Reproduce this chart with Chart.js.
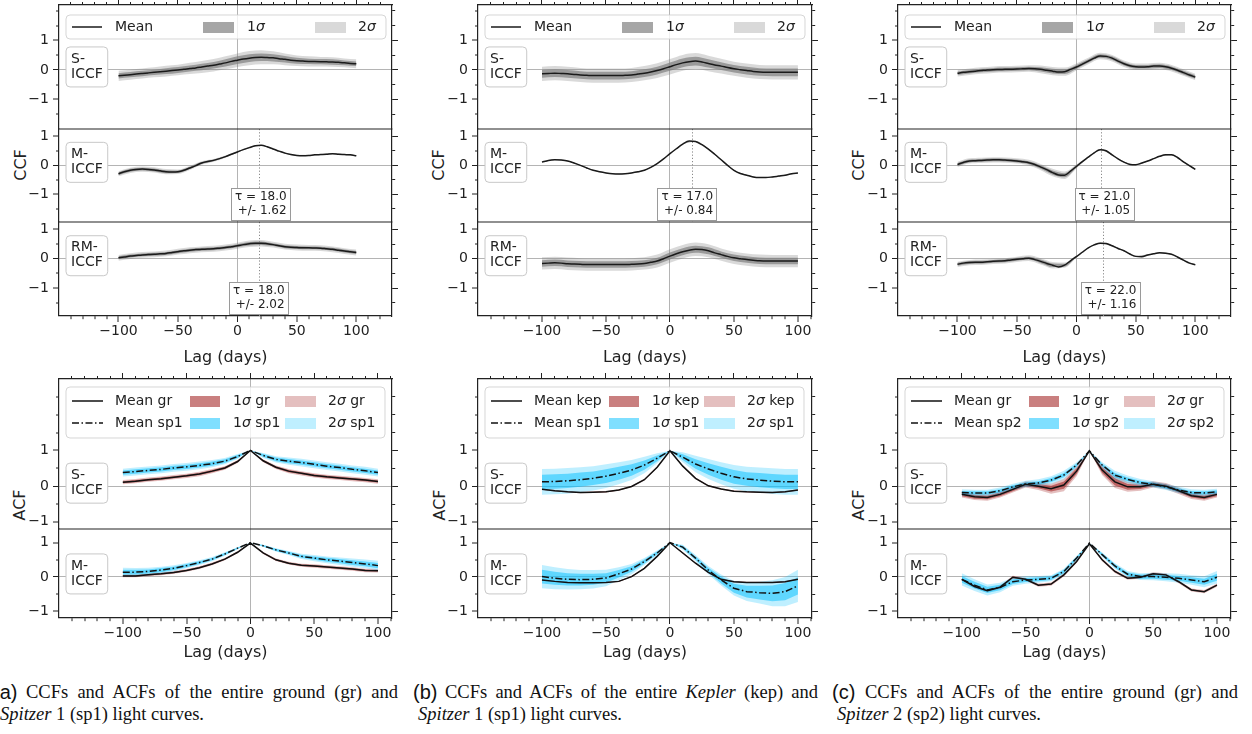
<!DOCTYPE html>
<html>
<head>
<meta charset="utf-8">
<script src="https://cdn.jsdelivr.net/npm/chart.js@4.4.1/dist/chart.umd.min.js"></script>
<style>
body { margin: 0; background: #fff; overflow: hidden; }
#fig { position: relative; width: 1252px; height: 734px; overflow: hidden; background: #fff; }
#fig canvas { position: absolute; }
.ylab { position: absolute; font: 16px "DejaVu Sans"; color: #222; transform: translate(-50%, -50%) rotate(-90deg); white-space: nowrap; }
.cap { position: absolute; font: 18.5px "Liberation Serif"; color: #111; white-space: nowrap; line-height: 22px; height: 22px; }
.cap.j { text-align: justify; text-align-last: justify; }
.tag { font: 20px "Liberation Sans"; }
</style>
</head>
<body>
<div id="fig">
  <div class="ylab" style="left:20px;top:165px">CCF</div>
  <div class="ylab" style="left:438px;top:165px">CCF</div>
  <div class="ylab" style="left:858px;top:165px">CCF</div>
  <div class="ylab" style="left:19px;top:505px">ACF</div>
  <div class="ylab" style="left:439px;top:505px">ACF</div>
  <div class="ylab" style="left:858px;top:505px">ACF</div>

  <div class="cap tag" style="left:-7px;top:681px">(a)</div>
  <div class="cap j" style="left:26px;top:681px;width:372px">CCFs and ACFs of the entire ground (gr) and</div>
  <div class="cap" style="left:0px;top:703px"><i>Spitzer</i> 1 (sp1) light curves.</div>

  <div class="cap tag" style="left:413px;top:681px">(b)</div>
  <div class="cap j" style="left:445px;top:681px;width:373px">CCFs and ACFs of the entire <i>Kepler</i> (kep) and</div>
  <div class="cap" style="left:418px;top:703px"><i>Spitzer</i> 1 (sp1) light curves.</div>

  <div class="cap tag" style="left:832px;top:681px">(c)</div>
  <div class="cap j" style="left:865px;top:681px;width:373px">CCFs and ACFs of the entire ground (gr) and</div>
  <div class="cap" style="left:837px;top:703px"><i>Spitzer</i> 2 (sp2) light curves.</div>
</div>
<script>
// lag grids
const LAG5 = [-100,-95,-90,-85,-80,-75,-70,-65,-60,-55,-50,-45,-40,-35,-30,-25,-20,-15,-10,-5,0,5,10,15,20,25,30,35,40,45,50,55,60,65,70,75,80,85,90,95,100];
const LAG10 = [-100,-90,-80,-70,-60,-50,-40,-30,-20,-10,0,10,20,30,40,50,60,70,80,90,100];

// CCF means (on LAG5)
const ccfA_S = [-0.20,-0.18,-0.16,-0.14,-0.12,-0.10,-0.08,-0.06,-0.04,-0.02,0.00,0.02,0.05,0.07,0.10,0.13,0.16,0.20,0.24,0.29,0.33,0.37,0.40,0.42,0.43,0.42,0.41,0.38,0.36,0.33,0.31,0.30,0.29,0.285,0.28,0.275,0.27,0.26,0.24,0.22,0.21];
const ccfA_M = [-0.29,-0.22,-0.17,-0.14,-0.13,-0.14,-0.16,-0.19,-0.22,-0.23,-0.22,-0.17,-0.09,-0.01,0.08,0.13,0.17,0.23,0.30,0.38,0.46,0.54,0.61,0.67,0.69,0.64,0.56,0.49,0.42,0.37,0.34,0.33,0.34,0.36,0.37,0.38,0.40,0.38,0.37,0.36,0.33];
const ccfA_RM = [0.03,0.06,0.09,0.11,0.13,0.14,0.15,0.165,0.18,0.21,0.24,0.27,0.29,0.31,0.32,0.33,0.34,0.36,0.38,0.41,0.44,0.48,0.51,0.53,0.53,0.51,0.48,0.44,0.41,0.39,0.38,0.37,0.37,0.365,0.36,0.34,0.32,0.29,0.26,0.235,0.21];
const ccfB_S = [-0.13,-0.12,-0.11,-0.12,-0.13,-0.15,-0.17,-0.18,-0.19,-0.19,-0.19,-0.19,-0.19,-0.18,-0.17,-0.14,-0.11,-0.07,-0.02,0.04,0.11,0.18,0.24,0.28,0.30,0.27,0.22,0.17,0.13,0.08,0.04,0.01,-0.02,-0.05,-0.07,-0.08,-0.08,-0.08,-0.08,-0.08,-0.08];
const ccfB_M = [0.11,0.17,0.19,0.18,0.15,0.08,0.00,-0.09,-0.17,-0.22,-0.26,-0.29,-0.30,-0.29,-0.26,-0.22,-0.17,-0.07,0.06,0.22,0.40,0.57,0.73,0.84,0.82,0.71,0.56,0.38,0.19,0.00,-0.17,-0.28,-0.34,-0.40,-0.42,-0.42,-0.40,-0.37,-0.34,-0.29,-0.26];
const ccfB_RM = [-0.16,-0.15,-0.14,-0.15,-0.17,-0.18,-0.19,-0.20,-0.20,-0.20,-0.20,-0.20,-0.20,-0.20,-0.19,-0.18,-0.16,-0.12,-0.08,0.00,0.09,0.17,0.24,0.29,0.32,0.31,0.27,0.20,0.14,0.08,0.03,0.00,-0.03,-0.05,-0.07,-0.08,-0.08,-0.08,-0.08,-0.08,-0.08];
const ccfC_S = [-0.11,-0.08,-0.06,-0.04,-0.02,0.00,0.01,0.015,0.02,0.025,0.03,0.04,0.05,0.04,0.02,-0.01,-0.04,-0.07,-0.06,0.02,0.10,0.20,0.30,0.40,0.47,0.46,0.40,0.30,0.21,0.14,0.11,0.10,0.11,0.13,0.13,0.11,0.06,-0.01,-0.09,-0.17,-0.24];
const ccfC_M = [0.03,0.10,0.15,0.16,0.17,0.18,0.19,0.19,0.18,0.17,0.15,0.12,0.09,0.03,-0.06,-0.15,-0.25,-0.33,-0.34,-0.20,-0.04,0.13,0.28,0.43,0.54,0.50,0.36,0.22,0.11,0.03,0.02,0.08,0.15,0.23,0.31,0.36,0.36,0.27,0.12,-0.01,-0.14];
const ccfC_RM = [-0.19,-0.15,-0.13,-0.12,-0.12,-0.10,-0.09,-0.08,-0.07,-0.04,-0.02,0.00,0.02,-0.03,-0.09,-0.16,-0.22,-0.28,-0.22,-0.07,0.07,0.22,0.37,0.47,0.53,0.52,0.44,0.35,0.27,0.16,0.08,0.07,0.13,0.17,0.20,0.19,0.15,0.06,-0.05,-0.15,-0.21];

// CCF band half-widths (on LAG10): 1 sigma and 2 sigma
const sA_S1 = [0.09,0.09,0.09,0.09,0.10,0.10,0.10,0.11,0.11,0.12,0.13,0.13,0.13,0.12,0.11,0.10,0.09,0.09,0.09,0.08,0.08];
const sA_S2 = [0.17,0.17,0.17,0.17,0.18,0.18,0.19,0.20,0.21,0.22,0.23,0.24,0.24,0.22,0.20,0.18,0.17,0.16,0.16,0.15,0.15];
const sA_M1 = [0.05,0.05,0.05,0.05,0.05,0.045,0.04,0.035,0.03,0.025,0.02,0.015,0.01,0.01,0.01,0.01,0.01,0.01,0.01,0.01,0.01];
const sA_M2 = [0.09,0.09,0.09,0.09,0.09,0.08,0.07,0.06,0.05,0.04,0.03,0.025,0.02,0.02,0.02,0.02,0.02,0.02,0.02,0.02,0.02];
const sA_R1 = [0.05,0.05,0.05,0.05,0.05,0.05,0.05,0.05,0.05,0.05,0.05,0.06,0.06,0.05,0.05,0.05,0.05,0.05,0.05,0.05,0.05];
const sA_R2 = [0.10,0.10,0.10,0.10,0.10,0.10,0.10,0.10,0.10,0.10,0.10,0.11,0.11,0.10,0.10,0.10,0.10,0.10,0.10,0.10,0.10];
const sB_S1 = [0.13,0.13,0.13,0.13,0.13,0.13,0.13,0.13,0.13,0.13,0.14,0.15,0.15,0.14,0.13,0.13,0.13,0.13,0.13,0.13,0.13];
const sB_S2 = [0.24,0.24,0.24,0.24,0.24,0.24,0.24,0.24,0.24,0.25,0.26,0.27,0.27,0.26,0.25,0.24,0.24,0.24,0.24,0.24,0.24];
const sB_M1 = [0.008,0.008,0.008,0.008,0.008,0.008,0.008,0.008,0.008,0.008,0.008,0.008,0.008,0.008,0.008,0.008,0.008,0.008,0.008,0.008,0.008];
const sB_M2 = [0.015,0.015,0.015,0.015,0.015,0.015,0.015,0.015,0.015,0.015,0.015,0.015,0.015,0.015,0.015,0.015,0.015,0.015,0.015,0.015,0.015];
const sB_R1 = [0.11,0.11,0.11,0.11,0.11,0.11,0.11,0.11,0.11,0.11,0.12,0.12,0.12,0.12,0.11,0.11,0.11,0.11,0.11,0.11,0.11];
const sB_R2 = [0.21,0.21,0.21,0.21,0.21,0.21,0.21,0.21,0.21,0.22,0.23,0.23,0.23,0.22,0.21,0.21,0.21,0.21,0.21,0.21,0.21];
const sC_S1 = [0.06,0.06,0.06,0.06,0.06,0.06,0.06,0.07,0.08,0.08,0.07,0.06,0.06,0.06,0.06,0.06,0.06,0.06,0.06,0.06,0.06];
const sC_S2 = [0.11,0.11,0.11,0.11,0.11,0.11,0.11,0.13,0.14,0.14,0.12,0.11,0.11,0.11,0.11,0.11,0.11,0.11,0.11,0.11,0.11];
const sC_M1 = [0.05,0.05,0.05,0.05,0.05,0.05,0.05,0.06,0.07,0.07,0.04,0.01,0.01,0.01,0.01,0.01,0.01,0.01,0.01,0.01,0.01];
const sC_M2 = [0.09,0.09,0.09,0.09,0.09,0.09,0.10,0.11,0.13,0.13,0.07,0.02,0.02,0.02,0.02,0.02,0.02,0.02,0.02,0.02,0.02];
const sC_R1 = [0.05,0.05,0.05,0.05,0.05,0.05,0.05,0.06,0.06,0.05,0.02,0.01,0.01,0.01,0.01,0.01,0.01,0.01,0.01,0.01,0.01];
const sC_R2 = [0.09,0.09,0.09,0.09,0.09,0.09,0.10,0.11,0.11,0.09,0.04,0.02,0.02,0.02,0.02,0.02,0.02,0.02,0.02,0.02,0.02];

// lag annotations: [tau, error]
const tauA_M = [18.0, '1.62'], tauA_RM = [18.0, '2.02'];
const tauB_M = [17.0, '0.84'];
const tauC_M = [21.0, '1.05'], tauC_RM = [22.0, '1.16'];

// ACF means (on LAG10)
const acfA_S_gr = [0.11,0.14,0.18,0.21,0.25,0.29,0.34,0.42,0.51,0.69,1.00,0.71,0.53,0.42,0.36,0.30,0.26,0.23,0.20,0.17,0.13];
const acfA_S_sp = [0.38,0.41,0.44,0.47,0.51,0.54,0.58,0.63,0.70,0.83,1.00,0.86,0.75,0.70,0.66,0.61,0.56,0.52,0.47,0.43,0.38];
const acfA_M_gr = [0.03,0.03,0.06,0.09,0.13,0.19,0.27,0.38,0.52,0.72,0.99,0.70,0.50,0.40,0.34,0.32,0.29,0.26,0.23,0.19,0.18];
const acfA_M_sp = [0.14,0.14,0.16,0.20,0.25,0.33,0.42,0.52,0.67,0.84,1.00,0.91,0.79,0.70,0.60,0.55,0.50,0.46,0.42,0.38,0.33];
const acfB_S_kep = [-0.09,-0.13,-0.16,-0.18,-0.17,-0.16,-0.11,-0.01,0.18,0.53,0.99,0.56,0.22,0.01,-0.08,-0.14,-0.16,-0.17,-0.18,-0.16,-0.11];
const acfB_S_sp = [0.12,0.13,0.15,0.18,0.22,0.28,0.36,0.45,0.59,0.78,0.99,0.81,0.62,0.48,0.36,0.26,0.20,0.17,0.14,0.12,0.12];
const acfB_M_kep = [-0.09,-0.13,-0.16,-0.17,-0.17,-0.16,-0.13,0.01,0.25,0.60,1.00,0.70,0.40,0.13,-0.07,-0.14,-0.16,-0.16,-0.16,-0.14,-0.07];
const acfB_M_sp = [0.01,-0.04,-0.07,-0.08,-0.07,-0.03,0.09,0.23,0.45,0.70,1.00,0.87,0.55,0.20,-0.09,-0.33,-0.43,-0.46,-0.48,-0.43,-0.26];
const acfC_S_gr = [-0.23,-0.30,-0.32,-0.23,-0.09,0.05,0.00,-0.07,0.03,0.42,0.99,0.45,0.12,-0.02,-0.02,0.05,0.00,-0.13,-0.27,-0.32,-0.23];
const acfC_S_sp = [-0.18,-0.19,-0.19,-0.13,-0.02,0.06,0.09,0.17,0.31,0.59,0.99,0.59,0.31,0.19,0.10,0.05,-0.02,-0.11,-0.18,-0.19,-0.16];
const acfC_M_gr = [-0.07,-0.28,-0.40,-0.30,-0.01,-0.07,-0.24,-0.21,0.06,0.45,0.97,0.50,0.16,-0.04,-0.01,0.09,0.06,-0.14,-0.38,-0.43,-0.24];
const acfC_M_sp = [-0.07,-0.24,-0.38,-0.31,-0.14,-0.09,-0.07,-0.04,0.16,0.55,0.99,0.65,0.32,0.08,0.01,0.01,-0.01,-0.04,-0.09,-0.14,-0.01];

// ACF band half-widths (on LAG10)
const gA_S1 = [0.03,0.03,0.03,0.03,0.03,0.03,0.03,0.03,0.03,0.02,0.00,0.02,0.03,0.03,0.03,0.03,0.03,0.03,0.03,0.03,0.03];
const gA_S2 = [0.06,0.06,0.06,0.06,0.06,0.06,0.06,0.06,0.05,0.04,0.00,0.04,0.05,0.06,0.06,0.06,0.06,0.06,0.06,0.06,0.06];
const pA_S1 = [0.06,0.06,0.06,0.06,0.06,0.06,0.06,0.06,0.05,0.04,0.00,0.04,0.05,0.06,0.06,0.06,0.06,0.06,0.06,0.06,0.06];
const pA_S2 = [0.11,0.11,0.11,0.11,0.11,0.11,0.11,0.10,0.09,0.07,0.00,0.07,0.09,0.10,0.11,0.11,0.11,0.11,0.11,0.11,0.11];
const gA_M1 = [0.02,0.02,0.02,0.02,0.02,0.02,0.02,0.02,0.02,0.015,0.00,0.015,0.02,0.02,0.02,0.025,0.025,0.025,0.025,0.025,0.025];
const gA_M2 = [0.04,0.04,0.04,0.04,0.04,0.04,0.04,0.04,0.035,0.03,0.00,0.03,0.035,0.04,0.045,0.05,0.05,0.05,0.05,0.05,0.05];
const pA_M1 = [0.07,0.07,0.06,0.06,0.05,0.05,0.04,0.035,0.03,0.02,0.00,0.02,0.03,0.035,0.04,0.05,0.06,0.06,0.07,0.07,0.08];
const pA_M2 = [0.13,0.12,0.11,0.10,0.09,0.08,0.07,0.06,0.05,0.03,0.00,0.03,0.05,0.06,0.08,0.09,0.10,0.11,0.12,0.13,0.14];
const gB_S1 = [0.01,0.01,0.01,0.01,0.01,0.01,0.01,0.01,0.01,0.01,0.00,0.01,0.01,0.01,0.01,0.01,0.01,0.01,0.01,0.01,0.01];
const gB_S2 = [0.02,0.02,0.02,0.02,0.02,0.02,0.02,0.02,0.02,0.02,0.00,0.02,0.02,0.02,0.02,0.02,0.02,0.02,0.02,0.02,0.02];
const pB_S1 = [0.20,0.20,0.20,0.20,0.19,0.19,0.18,0.16,0.13,0.08,0.00,0.08,0.13,0.16,0.18,0.19,0.19,0.20,0.20,0.20,0.20];
const pB_S2 = [0.36,0.36,0.36,0.35,0.34,0.33,0.31,0.28,0.23,0.14,0.00,0.14,0.23,0.28,0.31,0.33,0.34,0.35,0.36,0.36,0.36];
const gB_M1 = [0.01,0.01,0.01,0.01,0.01,0.01,0.01,0.01,0.01,0.01,0.00,0.01,0.01,0.01,0.01,0.01,0.01,0.01,0.01,0.01,0.01];
const gB_M2 = [0.02,0.02,0.02,0.02,0.02,0.02,0.02,0.02,0.02,0.02,0.00,0.02,0.02,0.02,0.02,0.02,0.02,0.02,0.02,0.02,0.02];
const pB_M1 = [0.20,0.19,0.18,0.17,0.16,0.14,0.11,0.08,0.06,0.04,0.00,0.04,0.05,0.07,0.10,0.13,0.17,0.20,0.23,0.25,0.25];
const pB_M2 = [0.34,0.32,0.30,0.28,0.27,0.24,0.19,0.15,0.10,0.07,0.00,0.07,0.09,0.12,0.16,0.21,0.27,0.32,0.38,0.43,0.47];
const gC_S1 = [0.05,0.05,0.05,0.05,0.05,0.05,0.06,0.08,0.10,0.08,0.00,0.08,0.10,0.08,0.06,0.05,0.05,0.05,0.05,0.05,0.05];
const gC_S2 = [0.09,0.09,0.09,0.09,0.09,0.09,0.11,0.14,0.17,0.14,0.00,0.14,0.17,0.14,0.11,0.09,0.09,0.09,0.09,0.09,0.09];
const pC_S1 = [0.045,0.045,0.045,0.045,0.045,0.045,0.05,0.055,0.06,0.04,0.00,0.04,0.06,0.055,0.05,0.045,0.045,0.045,0.045,0.045,0.045];
const pC_S2 = [0.09,0.09,0.09,0.09,0.09,0.09,0.10,0.11,0.12,0.08,0.00,0.08,0.12,0.11,0.10,0.09,0.09,0.09,0.09,0.09,0.09];
const gC_M1 = [0.02,0.02,0.02,0.02,0.02,0.02,0.02,0.02,0.02,0.02,0.00,0.02,0.02,0.02,0.02,0.02,0.02,0.02,0.02,0.02,0.02];
const gC_M2 = [0.045,0.045,0.045,0.045,0.045,0.045,0.045,0.045,0.045,0.04,0.00,0.04,0.045,0.045,0.045,0.045,0.045,0.045,0.045,0.045,0.045];
const pC_M1 = [0.10,0.10,0.09,0.08,0.07,0.06,0.06,0.05,0.05,0.04,0.00,0.04,0.05,0.05,0.06,0.06,0.07,0.07,0.08,0.09,0.10];
const pC_M2 = [0.18,0.17,0.16,0.14,0.12,0.11,0.10,0.09,0.08,0.06,0.00,0.06,0.08,0.09,0.10,0.11,0.12,0.13,0.14,0.16,0.18];

const INK = '#222';
const GRAY = '128,128,128', RED = '165,42,42', BLUE = '0,191,255';
Chart.defaults.font.family = 'DejaVu Sans';
Chart.defaults.font.size = 14;
Chart.defaults.color = INK;

const fig = document.getElementById('fig');
const DECOR = {};

const pts = (lags, vals) => vals.map((v, k) => ({x: lags[k], y: v}));
const every2 = arr => arr.filter((_, k) => k % 2 === 0);
const isInt = v => Math.abs(v - Math.round(v)) < 1e-6;
const fmt = v => { const r = Math.round(v); return r < 0 ? '\u2212' + (-r) : String(r); };

function tickVals(lo, hi, step) {
  const out = [];
  for (let v = Math.ceil((lo + 1e-6) / step) * step; v < hi - 1e-6; v += step) out.push(Math.round(v * 100) / 100);
  return out;
}

function band(yID, lags, mean, half, color, order, smooth) {
  const common = {yAxisID: yID, xAxisID: 'x', borderWidth: 0, borderColor: 'rgba(0,0,0,0)', pointRadius: 0, order: order};
  if (smooth) common.cubicInterpolationMode = 'monotone'; else common.tension = 0;
  return [
    Object.assign({}, common, {data: pts(lags, mean.map((v, k) => v + half[k])), fill: '+1', backgroundColor: color}),
    Object.assign({}, common, {data: pts(lags, mean.map((v, k) => v - half[k])), fill: false})
  ];
}

function rr(ctx, x, y, w, h, r) {
  ctx.beginPath();
  ctx.moveTo(x + r, y); ctx.lineTo(x + w - r, y); ctx.arcTo(x + w, y, x + w, y + r, r);
  ctx.lineTo(x + w, y + h - r); ctx.arcTo(x + w, y + h, x + w - r, y + h, r);
  ctx.lineTo(x + r, y + h); ctx.arcTo(x, y + h, x, y + h - r, r);
  ctx.lineTo(x, y + r); ctx.arcTo(x, y, x + r, y, r);
  ctx.closePath();
}

function rich(ctx, parts, x, y) {
  let cx = x;
  parts.forEach(p => {
    ctx.font = (p[1] ? 'italic ' : '') + '14px "DejaVu Sans"';
    ctx.fillText(p[0], cx, y);
    cx += ctx.measureText(p[0]).width;
  });
}

const decor = {
  id: 'decor',
  beforeDatasetsDraw(chart) {
    const d = DECOR[chart.canvas.id];
    const ctx = chart.ctx, xs = chart.scales.x;
    d.subs.forEach((s, i) => {
      if (!s.tau) return;
      const ys = chart.scales['y' + i];
      const px = Math.round(xs.getPixelForValue(s.tau[0])) + 0.5;
      ctx.save();
      ctx.strokeStyle = '#8a8a8a'; ctx.lineWidth = 1; ctx.setLineDash([1.2, 2]);
      ctx.beginPath(); ctx.moveTo(px, ys.top); ctx.lineTo(px, ys.bottom); ctx.stroke();
      ctx.restore();
    });
  },
  afterDatasetsDraw(chart) {
    const d = DECOR[chart.canvas.id];
    const ctx = chart.ctx, ca = chart.chartArea, xs = chart.scales.x;
    const L = ca.left, T = ca.top;
    ctx.save();
    // subplot dividers
    ctx.strokeStyle = INK; ctx.lineWidth = 1.2;
    for (let i = 0; i < d.subs.length - 1; i++) {
      const y = chart.scales['y' + i].bottom;
      ctx.beginPath(); ctx.moveTo(L, y); ctx.lineTo(ca.right, y); ctx.stroke();
    }
    // subplot name boxes
    ctx.textBaseline = 'middle'; ctx.textAlign = 'left';
    d.subs.forEach((s, i) => {
      const ys = chart.scales['y' + i];
      const y0 = ys.getPixelForValue(0);
      ctx.font = '14px "DejaVu Sans"';
      const w = Math.max(ctx.measureText(s.label[0]).width, ctx.measureText(s.label[1]).width) + 10;
      const top = y0 - 23;
      rr(ctx, L + 7, top, w, 40, 4);
      ctx.fillStyle = '#fff'; ctx.fill();
      ctx.strokeStyle = '#c8c8c8'; ctx.lineWidth = 1; ctx.stroke();
      ctx.fillStyle = INK;
      ctx.fillText(s.label[0], L + 12, top + 12);
      ctx.fillText(s.label[1], L + 12, top + 27);
      if (s.tau) {
        ctx.font = '12px "DejaVu Sans"';
        const l1 = '\u03c4 = ' + s.tau[0].toFixed(1), l2 = '+/- ' + s.tau[1];
        const tw = Math.max(ctx.measureText(l1).width, ctx.measureText(l2).width) + 7;
        const cx = xs.getPixelForValue(s.tau[0]) + s.tauDx;
        const bt = ys.bottom - 34;
        ctx.fillStyle = '#fff'; ctx.fillRect(cx - tw / 2, bt, tw, 32);
        ctx.strokeStyle = '#9a9a9a'; ctx.strokeRect(Math.round(cx - tw / 2) + 0.5, Math.round(bt) + 0.5, Math.round(tw), 32);
        ctx.fillStyle = INK; ctx.textAlign = 'right';
        ctx.fillText(l1, cx + tw / 2 - 3, bt + 9);
        ctx.fillText(l2, cx + tw / 2 - 3, bt + 23);
        ctx.textAlign = 'left';
      }
    });
    // legend
    if (d.kind === 'ccf') {
      rr(ctx, L + 7, T + 10, 320, 24, 4);
      ctx.fillStyle = 'rgba(255,255,255,0.8)'; ctx.fill();
      ctx.strokeStyle = 'rgba(204,204,204,0.8)'; ctx.lineWidth = 1; ctx.stroke();
      const y = T + 22;
      ctx.strokeStyle = '#1a1a1a'; ctx.lineWidth = 1.5;
      ctx.beginPath(); ctx.moveTo(L + 13, y); ctx.lineTo(L + 43, y); ctx.stroke();
      ctx.fillStyle = 'rgba(' + GRAY + ',0.7)'; ctx.fillRect(L + 144, y - 5, 31, 11);
      ctx.fillStyle = 'rgba(' + GRAY + ',0.3)'; ctx.fillRect(L + 256, y - 5, 31, 11);
      ctx.fillStyle = INK;
      rich(ctx, [['Mean', 0]], L + 56, y);
      rich(ctx, [['1', 0], ['\u03c3', 1]], L + 188, y);
      rich(ctx, [['2', 0], ['\u03c3', 1]], L + 299, y);
    } else {
      rr(ctx, L + 7, T + 8, 319, 51, 4);
      ctx.fillStyle = 'rgba(255,255,255,0.8)'; ctx.fill();
      ctx.strokeStyle = 'rgba(204,204,204,0.8)'; ctx.lineWidth = 1; ctx.stroke();
      const rows = [[d.names[0], RED, 0.6, 0.3, []], [d.names[1], BLUE, 0.5, 0.25, [7, 2.5, 1.5, 2.5]]];
      rows.forEach((r, k) => {
        const y = T + 22 + 22 * k;
        ctx.strokeStyle = '#111'; ctx.lineWidth = 1.5; ctx.setLineDash(r[4]);
        ctx.beginPath(); ctx.moveTo(L + 13, y); ctx.lineTo(L + 44, y); ctx.stroke();
        ctx.setLineDash([]);
        ctx.fillStyle = 'rgba(' + r[1] + ',' + r[2] + ')'; ctx.fillRect(L + 131, y - 5, 30, 11);
        ctx.fillStyle = 'rgba(' + r[1] + ',' + r[3] + ')'; ctx.fillRect(L + 226, y - 5, 31, 11);
        ctx.fillStyle = INK;
        rich(ctx, [['Mean ' + r[0], 0]], L + 56, y);
        rich(ctx, [['1', 0], ['\u03c3', 1], [' ' + r[0], 0]], L + 174, y);
        rich(ctx, [['2', 0], ['\u03c3', 1], [' ' + r[0], 0]], L + 269, y);
      });
    }
    ctx.restore();
  }
};

function makePanel(p) {
  const [bx, by, bw, bh] = p.box;
  const [fl, ft, fr, fb] = p.frame;
  const cv = document.createElement('canvas');
  cv.id = p.id; cv.width = bw; cv.height = bh;
  cv.style.left = bx + 'px'; cv.style.top = by + 'px';
  fig.appendChild(cv);
  const wL = fl - bx, wR = bx + bw - fr, hT = ft - by, hB = by + bh - fb;
  const fix = (size, horiz) => s => {
    if (horiz) s.height = size; else s.width = size;
    s.paddingLeft = s.paddingRight = s.paddingTop = s.paddingBottom = 0;
  };
  const setTicks = vals => s => { s.ticks = vals.map(v => ({value: v})); };
  const xv = tickVals(-150, p.xmax, 10);
  const majX = v => v % 50 === 0;
  const border = {color: INK, width: 1.2};
  const scales = {
    x: {
      type: 'linear', axis: 'x', position: 'bottom', min: -150, max: p.xmax,
      afterBuildTicks: setTicks(xv), afterFit: fix(hB, true),
      ticks: {autoSkip: false, maxRotation: 0, padding: 1, callback: v => (majX(v) && Math.abs(v) <= 100) ? fmt(v) : ''},
      grid: {
        drawOnChartArea: true, color: '#b4b4b4', tickColor: INK, tickWidth: 1, tickLength: 6,
        lineWidth: c => (c.tick && c.tick.value === 0) ? 1 : 0,
        tickBorderDash: c => (c.tick && !majX(c.tick.value)) ? [3, 20] : []
      },
      border: border,
      title: {display: true, text: 'Lag (days)', font: {size: 16}, padding: {top: 0, bottom: p.titlePad}}
    },
    xt: {
      type: 'linear', axis: 'x', position: 'top', min: -150, max: p.xmax,
      afterBuildTicks: setTicks(xv), afterFit: fix(hT, true),
      ticks: {display: false, autoSkip: false},
      grid: {
        drawOnChartArea: false, tickColor: INK, tickWidth: 1, tickLength: 6,
        tickBorderDash: c => (c.tick && !majX(c.tick.value)) ? [0, 3, 3, 20] : []
      },
      border: border
    }
  };
  const n = p.subs.length;
  const datasets = [];
  p.subs.forEach((s, i) => {
    const yv = tickVals(s.ylim[0], s.ylim[1], 0.5);
    scales['y' + i] = {
      type: 'linear', axis: 'y', position: 'left', stack: 'L', stackWeight: s.w, weight: n - i,
      min: s.ylim[0], max: s.ylim[1],
      afterBuildTicks: setTicks(yv), afterFit: fix(wL, false),
      ticks: {autoSkip: false, padding: 4, callback: v => (isInt(v) && Math.abs(v) <= 1) ? fmt(v) : ''},
      grid: {
        drawOnChartArea: true, color: '#b4b4b4', tickColor: INK, tickWidth: 1, tickLength: 6,
        lineWidth: c => (c.tick && c.tick.value === 0) ? 1 : 0,
        tickBorderDash: c => (c.tick && !(isInt(c.tick.value) && Math.abs(c.tick.value) <= 1)) ? [0, 3, 3, 20] : []
      },
      border: border
    };
    scales['r' + i] = {
      type: 'linear', axis: 'y', position: 'right', stack: 'R', stackWeight: s.w, weight: i + 1,
      min: s.ylim[0], max: s.ylim[1],
      afterBuildTicks: setTicks(yv), afterFit: fix(wR, false),
      ticks: {display: false, autoSkip: false},
      grid: {
        drawOnChartArea: false, tickColor: INK, tickWidth: 1, tickLength: 6,
        tickBorderDash: c => (c.tick && !(isInt(c.tick.value) && Math.abs(c.tick.value) <= 1)) ? [3, 20] : []
      },
      border: border
    };
    const yID = 'y' + i;
    if (p.kind === 'ccf') {
      const m10 = every2(s.mean);
      datasets.push(...band(yID, LAG10, m10, s.s2, 'rgba(' + GRAY + ',0.3)', 4, true));
      datasets.push(...band(yID, LAG10, m10, s.s1, 'rgba(' + GRAY + ',0.7)', 3, true));
      datasets.push({data: pts(LAG5, s.mean), xAxisID: 'x', yAxisID: yID, borderColor: '#1a1a1a', borderWidth: 1.5,
        pointRadius: 0, fill: false, cubicInterpolationMode: 'monotone', order: 0});
    } else {
      datasets.push(...band(yID, LAG10, s.gr, s.g2, 'rgba(' + RED + ',0.3)', 8, false));
      datasets.push(...band(yID, LAG10, s.gr, s.g1, 'rgba(' + RED + ',0.6)', 7, false));
      datasets.push(...band(yID, LAG10, s.sp, s.p2, 'rgba(' + BLUE + ',0.25)', 6, false));
      datasets.push(...band(yID, LAG10, s.sp, s.p1, 'rgba(' + BLUE + ',0.5)', 5, false));
      datasets.push({data: pts(LAG10, s.gr), xAxisID: 'x', yAxisID: yID, borderColor: '#111', borderWidth: 1.5,
        pointRadius: 0, fill: false, tension: 0, order: 1});
      datasets.push({data: pts(LAG10, s.sp), xAxisID: 'x', yAxisID: yID, borderColor: '#111', borderWidth: 1.5,
        borderDash: [7, 2.5, 1.5, 2.5], pointRadius: 0, fill: false, tension: 0, order: 0});
    }
  });
  DECOR[p.id] = {kind: p.kind, names: p.names, subs: p.subs};
  new Chart(cv, {
    type: 'line',
    data: {datasets: datasets},
    options: {
      responsive: false, animation: false, events: [],
      layout: {padding: 0, autoPadding: false},
      plugins: {legend: {display: false}, tooltip: {enabled: false}},
      scales: scales
    },
    plugins: [decor]
  });
}

const CCF_LIM = [[-2, 2.2], [-1.95, 1.25], [-1.95, 1.25]];
const CCF_W = [124, 93, 94];
const ACF_LIM = [[-1.2, 3], [-1.2, 1.4]];
const ACF_W = [150, 89];

makePanel({id: 'ccfA', kind: 'ccf', box: [0, 0, 410, 370], frame: [59, 5, 392, 316], xmax: 130, titlePad: 3, subs: [
  {mean: ccfA_S, s1: sA_S1, s2: sA_S2, ylim: CCF_LIM[0], w: CCF_W[0], label: ['S-', 'ICCF']},
  {mean: ccfA_M, s1: sA_M1, s2: sA_M2, ylim: CCF_LIM[1], w: CCF_W[1], label: ['M-', 'ICCF'], tau: tauA_M, tauDx: 1.5},
  {mean: ccfA_RM, s1: sA_R1, s2: sA_R2, ylim: CCF_LIM[2], w: CCF_W[2], label: ['RM-', 'ICCF'], tau: tauA_RM, tauDx: -0.5}
]});
makePanel({id: 'ccfB', kind: 'ccf', box: [410, 0, 420, 370], frame: [478, 5, 812, 316], xmax: 111, titlePad: 3, subs: [
  {mean: ccfB_S, s1: sB_S1, s2: sB_S2, ylim: CCF_LIM[0], w: CCF_W[0], label: ['S-', 'ICCF']},
  {mean: ccfB_M, s1: sB_M1, s2: sB_M2, ylim: CCF_LIM[1], w: CCF_W[1], label: ['M-', 'ICCF'], tau: tauB_M, tauDx: -5},
  {mean: ccfB_RM, s1: sB_R1, s2: sB_R2, ylim: CCF_LIM[2], w: CCF_W[2], label: ['RM-', 'ICCF']}
]});
makePanel({id: 'ccfC', kind: 'ccf', box: [830, 0, 422, 370], frame: [898, 5, 1231, 316], xmax: 130, titlePad: 3, subs: [
  {mean: ccfC_S, s1: sC_S1, s2: sC_S2, ylim: CCF_LIM[0], w: CCF_W[0], label: ['S-', 'ICCF']},
  {mean: ccfC_M, s1: sC_M1, s2: sC_M2, ylim: CCF_LIM[1], w: CCF_W[1], label: ['M-', 'ICCF'], tau: tauC_M, tauDx: 2.5},
  {mean: ccfC_RM, s1: sC_R1, s2: sC_R2, ylim: CCF_LIM[2], w: CCF_W[2], label: ['RM-', 'ICCF'], tau: tauC_RM, tauDx: 7.5}
]});

makePanel({id: 'acfA', kind: 'acf', names: ['gr', 'sp1'], box: [0, 370, 410, 300], frame: [59, 379, 392, 618], xmax: 111, titlePad: 8, subs: [
  {gr: acfA_S_gr, sp: acfA_S_sp, g1: gA_S1, g2: gA_S2, p1: pA_S1, p2: pA_S2, ylim: ACF_LIM[0], w: ACF_W[0], label: ['S-', 'ICCF']},
  {gr: acfA_M_gr, sp: acfA_M_sp, g1: gA_M1, g2: gA_M2, p1: pA_M1, p2: pA_M2, ylim: ACF_LIM[1], w: ACF_W[1], label: ['M-', 'ICCF']}
]});
makePanel({id: 'acfB', kind: 'acf', names: ['kep', 'sp1'], box: [410, 370, 420, 300], frame: [478, 379, 812, 618], xmax: 111, titlePad: 8, subs: [
  {gr: acfB_S_kep, sp: acfB_S_sp, g1: gB_S1, g2: gB_S2, p1: pB_S1, p2: pB_S2, ylim: ACF_LIM[0], w: ACF_W[0], label: ['S-', 'ICCF']},
  {gr: acfB_M_kep, sp: acfB_M_sp, g1: gB_M1, g2: gB_M2, p1: pB_M1, p2: pB_M2, ylim: ACF_LIM[1], w: ACF_W[1], label: ['M-', 'ICCF']}
]});
makePanel({id: 'acfC', kind: 'acf', names: ['gr', 'sp2'], box: [830, 370, 422, 300], frame: [898, 379, 1231, 618], xmax: 111, titlePad: 8, subs: [
  {gr: acfC_S_gr, sp: acfC_S_sp, g1: gC_S1, g2: gC_S2, p1: pC_S1, p2: pC_S2, ylim: ACF_LIM[0], w: ACF_W[0], label: ['S-', 'ICCF']},
  {gr: acfC_M_gr, sp: acfC_M_sp, g1: gC_M1, g2: gC_M2, p1: pC_M1, p2: pC_M2, ylim: ACF_LIM[1], w: ACF_W[1], label: ['M-', 'ICCF']}
]});
</script>
</body>
</html>
